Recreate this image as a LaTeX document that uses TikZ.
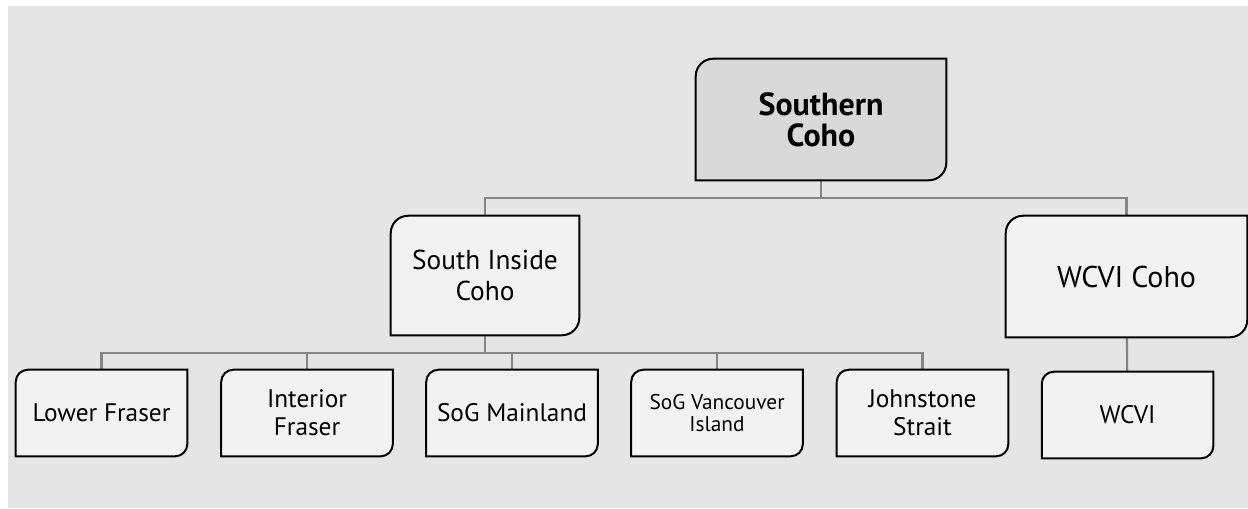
\documentclass[tikz,border=0pt]{standalone}
\usepackage{fontspec}
\setmainfont{PT Sans}
\usetikzlibrary{positioning,backgrounds}
\definecolor{hatter}{HTML}{E5E5E5}
\definecolor{halvany}{HTML}{F2F2F2}
\definecolor{sotet}{HTML}{D9D9D9}
\definecolor{szurke}{HTML}{858585}
\tikzset{
  doboz/.style={inner sep=0pt,align=center,text=black},
  kozep/.style={doboz,minimum height=90.75pt,font=\fontsize{22.5}{23}\selectfont},
  kicsi/.style={doboz,minimum width=128.25pt,minimum height=64.5pt,font=\fontsize{19}{21}\selectfont},
  keret/.style={draw=black,line width=1.5pt,fill=halvany},
  vonal/.style={draw=szurke,line width=1.6pt},
}
% box with two rounded corners (top left, bottom right)
\newcommand{\lekerekit}[3][halvany]{%
  \path[keret,fill=#1] ([yshift=-#3]#2.north west) arc[start angle=180,end angle=90,radius=#3]
    -- (#2.north east) -- ([yshift=#3]#2.south east) arc[start angle=0,end angle=-90,radius=#3]
    -- (#2.south west) -- cycle;}

\begin{document}
\begin{tikzpicture}[x=0.75pt,y=-0.75pt]
  \useasboundingbox (0,0) rectangle (1248,508);
  \node[kozep,minimum width=187.5pt,font=\bfseries\fontsize{24}{23.5}\selectfont] (del) at (821,119.5) {Southern\\Coho};
  \node[kozep,minimum width=141pt,minimum height=89.25pt,font=\fontsize{20.5}{23}\selectfont] (belso) at (485,275.5) {South Inside\\Coho};
  \node[kozep,minimum width=180.75pt] (wcc) at (1126.5,276.5) {WCVI Coho};
  \node[kicsi] (lf) at (101.5,413) {Lower Fraser};
  \node[kicsi] (if) at (307,413) {Interior\\Fraser};
  \node[kicsi] (sm) at (512,413) {SoG Mainland};
  \node[kicsi,font=\fontsize{16}{17}\selectfont] (sv) at (717,413) {SoG Vancouver\\Island};
  \node[kicsi] (js) at (922.5,413) {Johnstone\\Strait};
  \node[kicsi] (wc) at (1127.5,415) {WCVI};
  \begin{scope}[on background layer]
    \fill[hatter] (8,6) rectangle (1248,508);
    \draw[vonal] (del.south) -- ++(0,18) -| (belso.north);
    \draw[vonal] (del.south) -- ++(0,18) -| (wcc.north);
    \foreach \n in {lf,if,sm,sv,js}
      \draw[vonal] (belso.south) -- ++(0,18) -| (\n.north);
    \draw[vonal] (wcc) -- (wc);
    \lekerekit[sotet]{del}{13pt}
    \lekerekit{belso}{13pt}
    \lekerekit{wcc}{13pt}
    \foreach \n in {lf,if,sm,sv,js,wc}
      \lekerekit{\n}{9pt};
  \end{scope}
\end{tikzpicture}
\end{document}
